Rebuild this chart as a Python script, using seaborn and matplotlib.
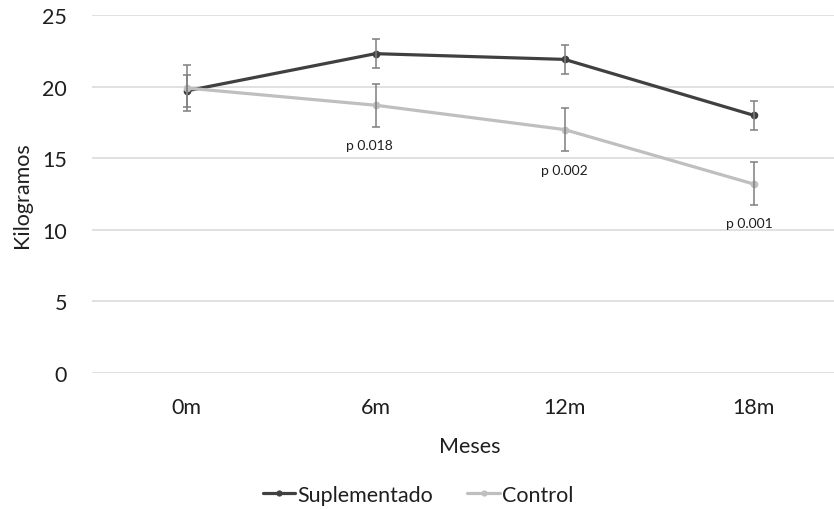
import matplotlib
matplotlib.use("Agg")
import matplotlib.pyplot as plt
import seaborn as sns
import pandas as pd

# Weight by month of follow-up (mean ± error)
meses = ["0m", "6m", "12m", "18m"]
suplementado = [19.7, 22.3, 21.9, 18.0]
suplementado_err = [1.1, 1.0, 1.0, 1.0]
control = [19.9, 18.7, 17.0, 13.2]
control_err = [1.6, 1.5, 1.5, 1.5]
p_labels = ["", "p 0.018", "p 0.002", "p 0.001"]

# placement of the p-value labels (data units)
p_label_x = [None, 0.965, 2.0, 2.98]
p_label_y = [None, 15.9, 14.2, 10.5]

series = ["Suplementado", "Control"]
colors = {"Suplementado": "#404040", "Control": "#BFBFBF"}

df = pd.DataFrame({
    "pos": list(range(len(meses))) * 2,
    "Meses": meses * 2,
    "Kilogramos": suplementado + control,
    "err": suplementado_err + control_err,
    "Serie": ["Suplementado"] * len(meses) + ["Control"] * len(meses),
})

sns.set_theme(style="white")
plt.rcParams["font.family"] = ["Lato", "DejaVu Sans"]
text_color = "#1f1f1f"

W, H = 834, 510
fig = plt.figure(figsize=(W / 100, H / 100), dpi=100)
left, right, top, bottom = 92, 848, 16, 374
ax = fig.add_axes([left / W, (H - bottom) / H, (right - left) / W, (bottom - top) / H])

for y in range(0, 26, 5):
    ax.axhline(y, color="#D9D9D9", lw=1.1, zorder=0)

sns.lineplot(data=df, x="pos", y="Kilogramos", hue="Serie", hue_order=series,
             palette=colors, marker="o", markersize=5.5, markeredgewidth=0,
             linewidth=2.3, ax=ax, legend=False, zorder=2, sort=False)

for name in series:
    sub = df[df["Serie"] == name]
    ax.errorbar(sub["pos"], sub["Kilogramos"], yerr=sub["err"], fmt="none",
                ecolor="#7F7F7F", elinewidth=1.1, capsize=3.2, capthick=1.1, zorder=3)

for lab, xv, yv in zip(p_labels, p_label_x, p_label_y):
    if lab:
        ax.text(xv, yv, lab, ha="center", va="center", fontsize=10, color=text_color)

ax.set_xlim(-0.5, 3.5)
ax.set_ylim(0, 25)
ax.set_xticks(range(len(meses)))
ax.set_xticklabels(meses)
ax.set_yticks(range(0, 26, 5))
ax.tick_params(axis="y", length=0, pad=18, labelsize=15.5, labelcolor=text_color)
ax.tick_params(axis="x", length=0, pad=17, labelsize=15.5, labelcolor=text_color)
ax.set_xlabel("Meses", fontsize=15.5, color=text_color, labelpad=14)
ax.set_ylabel("Kilogramos", fontsize=15.5, color=text_color)
ax.yaxis.set_label_coords(-60 / (right - left), 0.5)
for s in ax.spines.values():
    s.set_visible(False)

handles = [plt.Line2D([], [], color=colors[n], lw=2.3, marker="o", markersize=4.5,
                      markeredgewidth=0) for n in series]
fig.legend(handles, series, loc="center", bbox_to_anchor=(418 / W, 1 - 496 / H),
           ncol=2, frameon=False, fontsize=15.5, handlelength=1.5, handletextpad=0.1,
           columnspacing=1.6, labelcolor=text_color)

fig.savefig("out.png", dpi=100)
